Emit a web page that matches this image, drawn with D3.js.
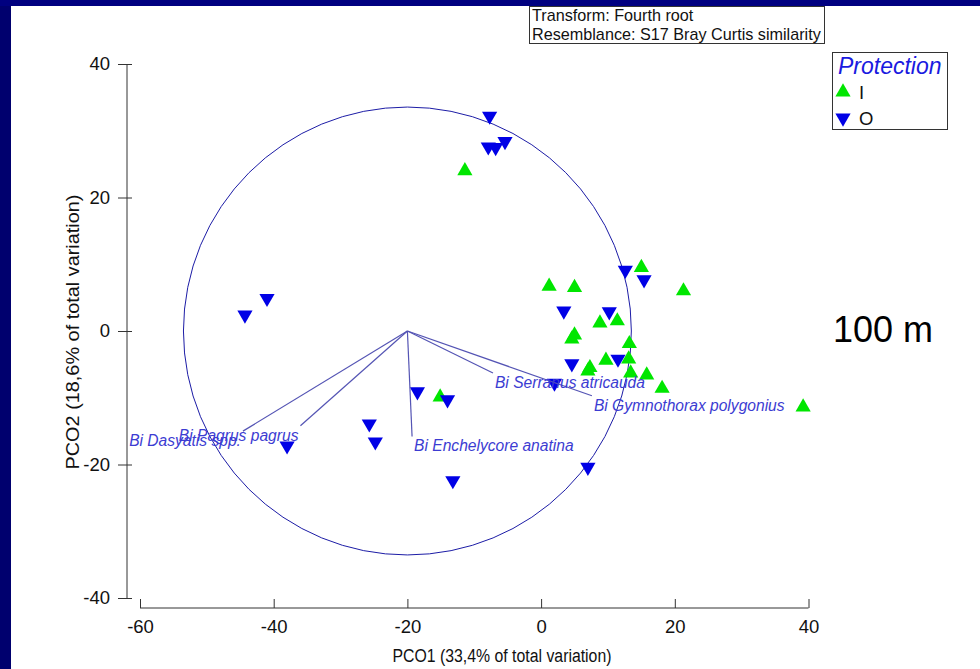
<!DOCTYPE html>
<html>
<head>
<meta charset="utf-8">
<script src="https://cdn.jsdelivr.net/npm/d3@7"></script>
<style>
  html, body { margin: 0; padding: 0; background: #00006e; }
  svg { display: block; font-family: Arial, "Liberation Sans", sans-serif; }
</style>
</head>
<body>
<div id="chart"></div>
<script>
// PCO scores
const groupI_x = [-11.4, -15.1, 1.2, 5.0, 5.0, 4.6, 8.8, 11.4, 13.2, 13.1, 7.3, 7.0, 9.7, 13.4, 15.8, 18.1, 15.0, 21.3, 39.2];
const groupI_y = [24.0, -9.9, 6.7, 6.5, -0.6, -1.2, 1.2, 1.5, -1.9, -4.2, -5.5, -6.0, -4.4, -6.3, -6.6, -8.6, 9.5, 6.0, -11.4];
const groupO_x = [-7.7, -7.9, -6.8, -5.4, -44.3, -41.0, -18.5, -14.0, -25.7, -24.8, -38.0, -13.2, 7.0, 2.0, 3.4, 4.6, 10.2, 11.5, 12.6, 15.4];
const groupO_y = [32.2, 27.6, 27.5, 28.4, 2.4, 4.9, -9.1, -10.3, -13.9, -16.6, -17.2, -22.4, -20.4, -7.8, 3.0, -4.9, 2.9, -4.2, 9.1, 7.7];

// vector overlay (species correlations)
const vecNames = ["Bi Dasyatis spp.", "Bi Pagrus pagrus", "Bi Enchelycore anatina", "Bi Serranus atricauda", "Bi Gymnothorax polygonius"];
const vecX = [-44.6, -36.0, -19.3, -7.2, 7.6];
const vecY = [-15.0, -14.2, -15.8, -6.3, -9.7];
const vecOrigin = [-20, 0];
const circleR = 33.5;

const xTicks = [-60, -40, -20, 0, 20, 40];
const yTicks = [-40, -20, 0, 20, 40];
const groups = ["I", "O"];

const W = 980, H = 669;
const C = {
    green: "#00e600",
    blue: "#0000e6",
    label: "#3c3cd2",
    vec: "#5454b4",
    circle: "#1c1ca6",
    axis: "#333",
};

const svg = d3.select("#chart").append("svg")
    .attr("width", W)
    .attr("height", H);

// dark slide frame + white panel
svg.append("rect").attr("width", W).attr("height", H).attr("fill", "#00006e");
svg.append("rect").attr("x", 0).attr("y", 0).attr("width", W).attr("height", 6).attr("fill", "#000080");
svg.append("rect").attr("x", 11).attr("y", 6).attr("width", W - 11).attr("height", H - 6).attr("fill", "#fff");

const x = d3.scaleLinear().domain([-60, 40]).range([140, 808.5]);
const y = d3.scaleLinear().domain([-40, 40]).range([598, 64]);
const fmt = d => String(d);   // plain hyphen minus like the original

// y axis (left, detached)
const yAxisX = 127;
const yAx = svg.append("g").attr("transform", `translate(${yAxisX},0)`)
    .call(d3.axisLeft(y).tickValues(yTicks).tickSize(9).tickPadding(8).tickFormat(fmt));
yAx.select(".domain").attr("d", `M0,${y(-40)}V${y(40)}`).attr("stroke", C.axis);
yAx.selectAll(".tick line").attr("x2", -9).attr("x1", 5).attr("stroke", C.axis);
yAx.selectAll(".tick text").attr("font-size", 18.5).attr("fill", "#111")
    .attr("font-family", "Arial, 'Liberation Sans', sans-serif");

// x axis (bottom, detached)
const xAxisY = 608;
const xAx = svg.append("g").attr("transform", `translate(0,${xAxisY})`)
    .call(d3.axisBottom(x).tickValues(xTicks).tickSize(0).tickPadding(12).tickFormat(fmt));
xAx.select(".domain").attr("d", `M${x(-60)},0H${x(40)}`).attr("stroke", C.axis);
xAx.selectAll(".tick line").attr("y1", -9).attr("y2", 0).attr("stroke", C.axis);
xAx.selectAll(".tick text").attr("font-size", 18.5).attr("fill", "#111")
    .attr("font-family", "Arial, 'Liberation Sans', sans-serif");

svg.append("text")
    .attr("x", 502).attr("y", 662)
    .attr("text-anchor", "middle")
    .attr("font-size", 18).attr("fill", "#111")
    .attr("textLength", 219).attr("lengthAdjust", "spacingAndGlyphs")
    .text("PCO1 (33,4% of total variation)");

svg.append("text")
    .attr("transform", "translate(79,332) rotate(-90)")
    .attr("text-anchor", "middle")
    .attr("font-size", 19).attr("fill", "#111")
    .attr("textLength", 275).attr("lengthAdjust", "spacingAndGlyphs")
    .text("PCO2 (18,6% of total variation)");

// correlation circle
svg.append("circle")
    .attr("cx", x(vecOrigin[0])).attr("cy", y(vecOrigin[1]))
    .attr("r", x(vecOrigin[0] + circleR) - x(vecOrigin[0]))
    .attr("fill", "none").attr("stroke", C.circle).attr("stroke-width", 1);

// points
const symbolGen = d3.symbol().type(d3.symbolTriangle).size(100);
const pts = [];
groupI_x.forEach((v, i) => pts.push({ g: "I", x: v, y: groupI_y[i] }));
groupO_x.forEach((v, i) => pts.push({ g: "O", x: v, y: groupO_y[i] }));

svg.append("g").selectAll("path.pt")
    .data(pts)
    .enter()
    .append("path")
    .attr("class", "pt")
    .attr("d", symbolGen)
    .attr("transform", d => `translate(${x(d.x)},${y(d.y)})` + (d.g === "O" ? " rotate(180)" : ""))
    .attr("fill", d => d.g === "I" ? C.green : C.blue);

// vectors + labels
const vecs = vecNames.map((n, i) => ({ name: n, x: vecX[i], y: vecY[i] }));
const vg = svg.append("g");
vg.selectAll("line")
    .data(vecs)
    .enter()
    .append("line")
    .attr("x1", x(vecOrigin[0])).attr("y1", y(vecOrigin[1]))
    .attr("x2", d => x(d.x)).attr("y2", d => y(d.y))
    .attr("stroke", C.vec).attr("stroke-width", 1.2);
vg.selectAll("text")
    .data(vecs)
    .enter()
    .append("text")
    .attr("x", d => d.x < vecOrigin[0] - 2 ? x(d.x) - 2 : x(d.x) + 2)
    .attr("y", d => y(d.y) + 15)
    .attr("text-anchor", d => d.x < vecOrigin[0] - 2 ? "end" : "start")
    .attr("font-size", 15.6).attr("font-style", "italic")
    .attr("fill", C.label)
    .text(d => d.name);

// header box
svg.append("rect")
    .attr("x", 529.5).attr("y", 6.5).attr("width", 295).attr("height", 37)
    .attr("fill", "#fff").attr("stroke", "#333");
svg.append("text").attr("x", 532).attr("y", 21).attr("font-size", 16.2).attr("fill", "#111")
    .text("Transform: Fourth root");
svg.append("text").attr("x", 532).attr("y", 40).attr("font-size", 16.2).attr("fill", "#111")
    .text("Resemblance: S17 Bray Curtis similarity");

// legend
const lg = svg.append("g");
lg.append("rect")
    .attr("x", 832.5).attr("y", 52.5).attr("width", 115).attr("height", 77)
    .attr("fill", "#fff").attr("stroke", "#333");
lg.append("text").attr("x", 838).attr("y", 74)
    .attr("font-size", 23).attr("font-style", "italic").attr("fill", "#1a1ae0")
    .text("Protection");
groups.forEach((g, i) => {
    const cy = 92 + i * 26;
    lg.append("path")
        .attr("d", symbolGen)
        .attr("transform", `translate(843,${cy})` + (g === "O" ? " rotate(180)" : ""))
        .attr("fill", g === "I" ? C.green : C.blue);
    lg.append("text").attr("x", 859).attr("y", cy + 7)
        .attr("font-size", 18.5).attr("fill", "#111").text(g);
});

// depth annotation
svg.append("text").attr("x", 833).attr("y", 342)
    .attr("font-size", 36).attr("fill", "#000").text("100 m");
</script>
</body>
</html>
